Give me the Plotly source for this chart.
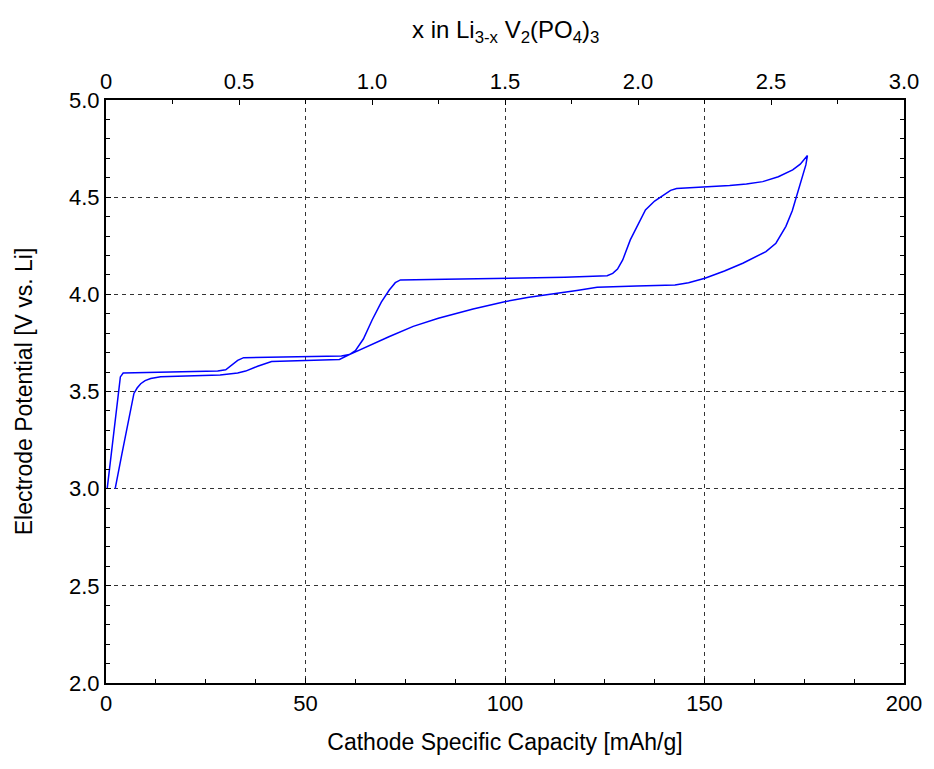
import plotly.graph_objects as go

# Charge (upper) branch
charge_cap = [0.3, 3.6, 4.3, 15, 28, 30, 31.5, 33, 34.5, 45, 59, 61, 62.5, 64.5, 66.7, 69, 71, 72.5,
              73.8, 85, 100, 115, 125.6, 127, 128.2, 129.5, 131.4, 133.5, 135.2, 137.5, 139.7, 141.5,
              143, 150, 156.3, 160.5, 164.6, 168.5, 172.1, 174, 175.8]
charge_v = [3.0, 3.575, 3.595, 3.598, 3.605, 3.612, 3.635, 3.66, 3.674, 3.678, 3.683, 3.69, 3.71, 3.77,
            3.868, 3.96, 4.022, 4.06, 4.074, 4.077, 4.082, 4.088, 4.096, 4.108, 4.13, 4.177, 4.28, 4.37,
            4.434, 4.48, 4.511, 4.535, 4.545, 4.552, 4.56, 4.568, 4.58, 4.605, 4.64, 4.67, 4.714]

# Discharge (lower) branch
discharge_cap = [175.4, 174.5, 173.3, 172, 170.4, 167.9, 165.4, 162.5, 159.6, 155, 150.1, 146, 142.6,
                 133, 123.1, 118, 112.4, 106, 99.9, 92, 83.3, 77, 70.9, 66, 62.5, 61, 58.5, 50, 41.5,
                 38, 35, 33, 28.6, 20, 13.7, 11.2, 9.8, 8.7, 7.8, 7.0, 5.5, 4, 2.3]
discharge_v = [4.666, 4.6, 4.52, 4.43, 4.35, 4.263, 4.22, 4.19, 4.16, 4.12, 4.083, 4.06, 4.048, 4.043,
               4.036, 4.02, 4.005, 3.985, 3.962, 3.925, 3.877, 3.835, 3.782, 3.738, 3.705, 3.69, 3.665,
               3.659, 3.654, 3.63, 3.605, 3.595, 3.585, 3.58, 3.576, 3.567, 3.556, 3.54, 3.518, 3.49,
               3.34, 3.18, 3.0]

bottom_ticks = [0, 50, 100, 150, 200]
left_ticks = [2.0, 2.5, 3.0, 3.5, 4.0, 4.5, 5.0]
top_ticks = [0, 0.5, 1.0, 1.5, 2.0, 2.5, 3.0]
top_labels = ["0", "0.5", "1.0", "1.5", "2.0", "2.5", "3.0"]

cap = charge_cap + discharge_cap
volt = charge_v + discharge_v

FONT = "Liberation Sans, Arial, sans-serif"
FS = 23
TFS = 22

fig = go.Figure()
fig.add_trace(go.Scatter(x=cap, y=volt, mode="lines",
                         line=dict(color="#0000ff", width=1.5), showlegend=False))
fig.add_trace(go.Scatter(x=[0, 3], y=[None, None], xaxis="x2", mode="lines",
                         showlegend=False, hoverinfo="skip"))

fig.update_layout(
    width=926, height=761,
    margin=dict(l=98, r=21, t=92, b=86),
    paper_bgcolor="white", plot_bgcolor="white",
    font=dict(family=FONT, size=TFS, color="black"),
    xaxis=dict(range=[0, 200], tickvals=bottom_ticks, ticktext=[str(t) for t in bottom_ticks],
               ticks="inside", ticklen=5, tickcolor="black", tickwidth=1,
               showline=True, linecolor="black", linewidth=2,
               showgrid=True, gridcolor="#333", griddash="4px,4px", gridwidth=1,
               zeroline=False, tickfont=dict(size=TFS),
               minor=dict(dtick=12.5, tick0=0, ticks="inside", ticklen=4, tickcolor="black", showgrid=False),
               title=dict(text="Cathode Specific Capacity [mAh/g]", standoff=18,
                          font=dict(size=FS))),
    xaxis2=dict(range=[0, 3], overlaying="x", side="top", anchor="y",
                tickvals=top_ticks, ticktext=top_labels, tickfont=dict(size=TFS),
                ticks="inside", ticklen=5, tickcolor="black", tickwidth=1,
                showline=True, linecolor="black", linewidth=2,
                showgrid=False, zeroline=False,
                minor=dict(dtick=0.25, tick0=0, ticks="inside", ticklen=4, tickcolor="black", showgrid=False)),
    yaxis=dict(range=[2, 5], tickvals=left_ticks, ticktext=[f"{t:.1f}" for t in left_ticks],
               ticks="inside", ticklen=5, tickcolor="black", tickwidth=1, tickfont=dict(size=TFS),
               showline=True, linecolor="black", linewidth=2, mirror="ticks",
               showgrid=True, gridcolor="#333", griddash="4px,4px", gridwidth=1,
               zeroline=False,
               minor=dict(dtick=0.1, tick0=2, ticks="inside", ticklen=4, tickcolor="black", showgrid=False),
               title=dict(text="Electrode Potential [V vs. Li]", standoff=30,
                          font=dict(size=FS))),
    annotations=[dict(text="x in Li<sub>3-x</sub> V<sub>2</sub>(PO<sub>4</sub>)<sub>3</sub>",
                      xref="paper", yref="paper", x=0.5, y=1 + (100 - 32) / 583,
                      xanchor="center", yanchor="middle", showarrow=False,
                      font=dict(size=FS + 1, family=FONT))],
)

fig.write_html("out.html")
